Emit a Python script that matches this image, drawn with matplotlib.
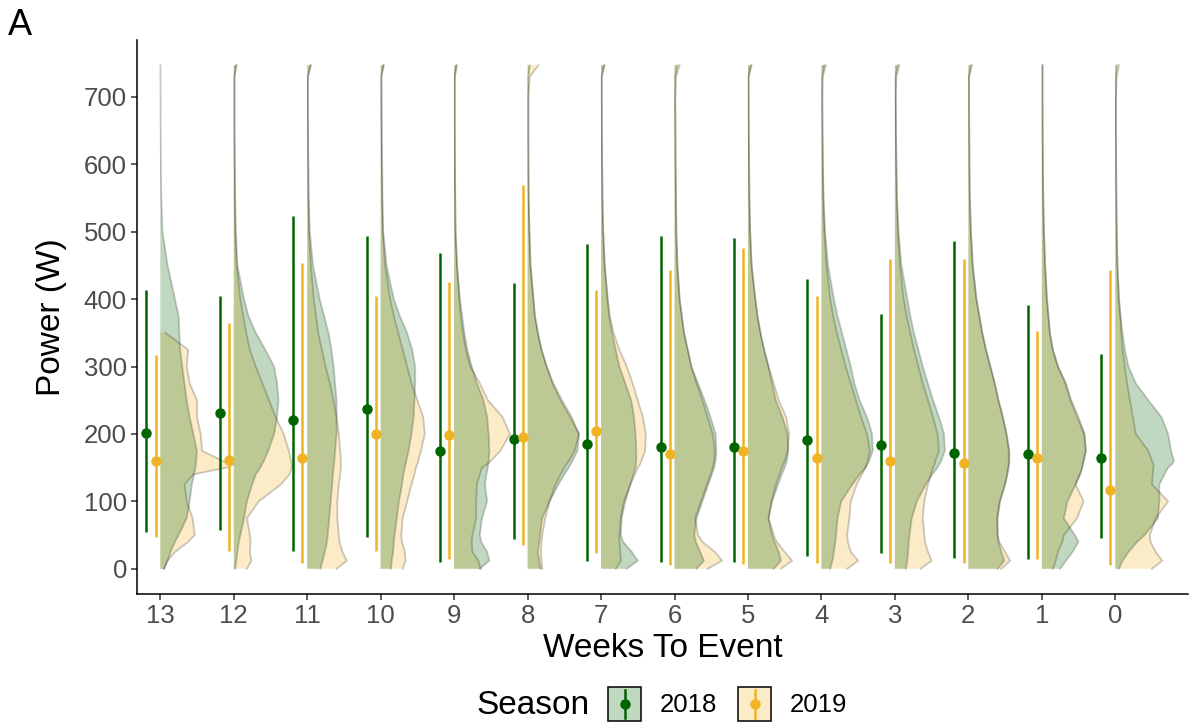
import matplotlib
matplotlib.use("Agg")
import matplotlib.pyplot as plt
from matplotlib.patches import Rectangle
from matplotlib.lines import Line2D

plt.rcParams['font.family'] = ['Liberation Sans', 'DejaVu Sans']

# ---------------- data ----------------
weeks = ["13", "12", "11", "10", "9", "8", "7", "6", "5", "4", "3", "2", "1", "0"]
seasons = ["2018", "2019"]

mean_2018 = [202, 231, 220, 237, 174, 193, 185, 180, 180, 191, 184, 172, 170, 164]
low_2018 = [54, 57, 26, 47, 10, 44, 12, 10, 10, 19, 23, 16, 14, 45]
high_2018 = [414, 405, 524, 493, 468, 424, 482, 494, 490, 430, 378, 486, 391, 319]

mean_2019 = [160, 162, 164, 200, 199, 196, 204, 171, 175, 165, 160, 157, 164, 117]
low_2019 = [47, 26, 8, 26, 15, 35, 23, 5, 7, 9, 9, 8, 14, 5]
high_2019 = [317, 364, 453, 405, 425, 569, 414, 443, 476, 405, 460, 460, 353, 443]

# power levels (W) at which the half-violin widths were read
levels = [0, 12, 25, 40, 50, 75, 100, 125, 140, 150, 155, 160, 175, 200, 225,
          250, 275, 300, 325, 350, 375, 400, 450, 500, 550, 600, 650, 700, 730, 747]

top_2018 = [747] * 14
top_2019 = [350, 747, 747, 747, 747, 747, 747, 747, 747, 747, 747, 747, 747, 747]

# half-violin widths (category units), one row per week (13 .. 0)
dens_2018 = [
    [0.05,0.1,0.14,0.2,0.25,0.36,0.4,0.43,0.46,0.48,0.485,0.49,0.5,0.45,0.4,0.36,0.33,0.3,0.27,0.26,0.25,0.2,0.1,0.03,0.015,0.008,0.005,0.003,0.002,0.002],
    [0.02,0.035,0.05,0.07,0.09,0.14,0.18,0.25,0.3,0.36,0.385,0.41,0.47,0.55,0.59,0.61,0.59,0.55,0.43,0.3,0.2,0.14,0.05,0.03,0.02,0.015,0.01,0.01,0.01,0.03],
    [0.18,0.21,0.24,0.27,0.28,0.3,0.32,0.34,0.35,0.36,0.365,0.37,0.38,0.4,0.4,0.4,0.38,0.36,0.33,0.29,0.23,0.17,0.08,0.035,0.02,0.015,0.012,0.01,0.01,0.045],
    [0.14,0.15,0.17,0.18,0.19,0.22,0.25,0.29,0.31,0.33,0.34,0.35,0.38,0.42,0.45,0.46,0.47,0.47,0.43,0.36,0.26,0.18,0.08,0.035,0.025,0.02,0.015,0.012,0.01,0.04],
    [0.35,0.48,0.45,0.37,0.35,0.38,0.45,0.42,0.44,0.46,0.465,0.47,0.48,0.47,0.45,0.4,0.31,0.24,0.18,0.14,0.11,0.08,0.04,0.02,0.015,0.012,0.01,0.01,0.01,0.03],
    [0.18,0.16,0.14,0.16,0.17,0.2,0.3,0.42,0.5,0.56,0.585,0.61,0.68,0.7,0.58,0.45,0.34,0.26,0.19,0.14,0.1,0.08,0.04,0.025,0.015,0.012,0.01,0.01,0.01,0.03],
    [0.35,0.5,0.42,0.3,0.27,0.28,0.33,0.4,0.44,0.47,0.475,0.48,0.48,0.47,0.45,0.41,0.33,0.25,0.2,0.15,0.11,0.09,0.05,0.03,0.02,0.015,0.012,0.01,0.01,0.04],
    [0.3,0.4,0.35,0.29,0.27,0.3,0.38,0.46,0.51,0.54,0.55,0.56,0.57,0.56,0.49,0.41,0.32,0.23,0.18,0.13,0.1,0.07,0.04,0.025,0.02,0.015,0.012,0.01,0.01,0.04],
    [0.35,0.45,0.42,0.36,0.33,0.28,0.33,0.41,0.46,0.5,0.515,0.53,0.55,0.54,0.47,0.38,0.33,0.28,0.22,0.17,0.13,0.1,0.05,0.03,0.02,0.015,0.012,0.01,0.01,0.04],
    [0.12,0.15,0.17,0.19,0.2,0.22,0.27,0.42,0.52,0.6,0.625,0.65,0.7,0.69,0.62,0.52,0.45,0.4,0.34,0.28,0.22,0.17,0.09,0.05,0.03,0.02,0.015,0.012,0.01,0.04],
    [0.15,0.17,0.18,0.19,0.2,0.23,0.3,0.42,0.51,0.58,0.605,0.63,0.68,0.67,0.6,0.52,0.45,0.38,0.32,0.26,0.21,0.17,0.09,0.05,0.03,0.02,0.015,0.012,0.01,0.04],
    [0.4,0.49,0.45,0.41,0.4,0.4,0.43,0.5,0.53,0.55,0.555,0.56,0.56,0.52,0.47,0.41,0.36,0.3,0.24,0.19,0.15,0.11,0.06,0.035,0.02,0.015,0.012,0.01,0.01,0.03],
    [0.25,0.33,0.42,0.5,0.45,0.3,0.35,0.46,0.52,0.55,0.56,0.57,0.6,0.58,0.48,0.39,0.32,0.22,0.15,0.11,0.09,0.07,0.045,0.03,0.02,0.015,0.012,0.01,0.01,0.01],
    [0.05,0.1,0.18,0.3,0.4,0.58,0.6,0.6,0.67,0.72,0.77,0.8,0.76,0.72,0.63,0.45,0.28,0.18,0.13,0.1,0.07,0.05,0.03,0.02,0.015,0.012,0.01,0.01,0.01,0.02],
]

dens_2019 = [
    [0.05,0.1,0.2,0.38,0.47,0.44,0.36,0.33,0.45,0.9,1.0,0.85,0.57,0.55,0.5,0.5,0.4,0.36,0.38,0.07,0,0,0,0,0,0,0,0,0,0],
    [0.18,0.24,0.22,0.23,0.22,0.18,0.34,0.64,0.76,0.79,0.79,0.78,0.75,0.68,0.57,0.48,0.39,0.3,0.22,0.17,0.13,0.09,0.04,0.02,0.015,0.012,0.01,0.01,0.01,0.04],
    [0.4,0.54,0.48,0.44,0.43,0.41,0.41,0.43,0.45,0.46,0.46,0.46,0.45,0.43,0.4,0.36,0.31,0.25,0.2,0.15,0.12,0.09,0.05,0.025,0.018,0.014,0.012,0.01,0.01,0.05],
    [0.3,0.34,0.33,0.29,0.28,0.3,0.36,0.42,0.46,0.48,0.5,0.51,0.55,0.6,0.58,0.5,0.42,0.36,0.3,0.24,0.18,0.13,0.06,0.03,0.02,0.015,0.012,0.01,0.01,0.04],
    [0.36,0.33,0.25,0.24,0.25,0.3,0.3,0.31,0.35,0.38,0.45,0.5,0.63,0.76,0.66,0.46,0.35,0.22,0.16,0.12,0.09,0.07,0.04,0.02,0.015,0.012,0.01,0.01,0.01,0.04],
    [0.2,0.19,0.18,0.19,0.2,0.24,0.3,0.38,0.45,0.5,0.53,0.56,0.64,0.7,0.6,0.47,0.35,0.26,0.19,0.14,0.1,0.08,0.04,0.025,0.015,0.012,0.01,0.01,0.03,0.15],
    [0.2,0.27,0.26,0.25,0.25,0.27,0.31,0.4,0.46,0.5,0.53,0.55,0.6,0.61,0.57,0.5,0.43,0.35,0.25,0.17,0.12,0.09,0.05,0.03,0.02,0.015,0.012,0.01,0.01,0.05],
    [0.45,0.65,0.55,0.38,0.32,0.28,0.36,0.44,0.49,0.52,0.53,0.54,0.55,0.52,0.45,0.38,0.3,0.23,0.18,0.13,0.1,0.07,0.04,0.025,0.02,0.015,0.012,0.01,0.02,0.07],
    [0.45,0.6,0.5,0.39,0.35,0.28,0.32,0.38,0.43,0.46,0.48,0.5,0.54,0.56,0.52,0.42,0.35,0.28,0.22,0.17,0.13,0.1,0.05,0.03,0.02,0.015,0.012,0.01,0.01,0.05],
    [0.35,0.5,0.4,0.36,0.35,0.38,0.4,0.48,0.55,0.6,0.62,0.63,0.66,0.62,0.54,0.47,0.4,0.33,0.27,0.21,0.16,0.12,0.07,0.04,0.025,0.02,0.015,0.012,0.02,0.06],
    [0.35,0.5,0.45,0.41,0.4,0.38,0.4,0.45,0.49,0.52,0.54,0.55,0.6,0.58,0.52,0.45,0.38,0.32,0.26,0.21,0.16,0.12,0.07,0.04,0.025,0.02,0.015,0.012,0.02,0.06],
    [0.45,0.57,0.5,0.42,0.4,0.39,0.43,0.5,0.53,0.54,0.55,0.55,0.55,0.52,0.47,0.41,0.36,0.3,0.24,0.19,0.15,0.11,0.06,0.035,0.02,0.015,0.012,0.01,0.01,0.05],
    [0.15,0.19,0.22,0.28,0.3,0.48,0.57,0.46,0.52,0.55,0.56,0.57,0.6,0.58,0.5,0.4,0.33,0.22,0.15,0.11,0.09,0.07,0.045,0.03,0.02,0.015,0.012,0.01,0.01,0.01],
    [0.5,0.64,0.55,0.48,0.47,0.55,0.72,0.5,0.51,0.52,0.52,0.5,0.45,0.28,0.24,0.2,0.16,0.13,0.1,0.08,0.07,0.05,0.03,0.02,0.015,0.012,0.01,0.01,0.02,0.05],
]

# ---------------- style ----------------
col_2018 = "#006400"
col_2019 = "#F0B323"
fill_alpha = 0.25

W, H = 1194, 724
fig = plt.figure(figsize=(W / 100, H / 100), dpi=100)
ax = fig.add_axes([137.3 / W, (H - 594) / H, (1188 - 137.3) / W, (594 - 40) / H])

positions = list(range(len(weeks)))


def draw_violin(pos, widths, top, color):
    ys = [y for y in levels if y <= top]
    ws = widths[:len(ys)]
    xs = [pos + w for w in ws]
    ax.fill_betweenx(ys, [pos] * len(ys), xs, facecolor=color, alpha=fill_alpha,
                     linewidth=0, zorder=2)
    ax.plot(xs, ys, color="black", alpha=0.2, lw=1.3, zorder=3,
            solid_joinstyle="round")


for i, pos in enumerate(positions):
    draw_violin(pos, dens_2019[i], top_2019[i], col_2019)
    draw_violin(pos, dens_2018[i], top_2018[i], col_2018)

off_2018, off_2019 = -0.19, -0.065
for i, pos in enumerate(positions):
    ax.plot([pos + off_2018] * 2, [low_2018[i], high_2018[i]], color=col_2018,
            lw=1.8, zorder=4, solid_capstyle="butt")
    ax.plot(pos + off_2018, mean_2018[i], "o", color=col_2018, ms=6.5, zorder=5)
    ax.plot([pos + off_2019] * 2, [low_2019[i], high_2019[i]], color=col_2019,
            lw=1.8, zorder=4, solid_capstyle="butt")
    ax.plot(pos + off_2019, mean_2019[i], "o", color=col_2019, ms=6.5, zorder=5)

ax.set_xlim(-0.313, 13.99)
ax.set_ylim(-37.4, 784.4)
ax.set_xticks(positions)
ax.set_xticklabels(weeks)
ax.set_yticks([0, 100, 200, 300, 400, 500, 600, 700])

for s in ["top", "right"]:
    ax.spines[s].set_visible(False)
for s in ["left", "bottom"]:
    ax.spines[s].set_linewidth(1.1)
    ax.spines[s].set_color("black")
ax.tick_params(axis="both", length=4.5, width=1.1, color="#333333",
               labelsize=18.5, labelcolor="#4D4D4D", pad=3)

ax.set_xlabel("Weeks To Event", fontsize=24, labelpad=3)
ax.set_ylabel("Power (W)", fontsize=24, labelpad=12)

fig.text(8 / W, 1 - 35 / H, "A", fontsize=26, ha="left", va="baseline")

# ---------------- legend ----------------
def fx(x):
    return x / W


def fy(y):
    return 1 - y / H


fig.text(fx(476), fy(705), "Season", fontsize=24, ha="left", va="center")
for x0, lab, col in [(608, "2018", col_2018), (738, "2019", col_2019)]:
    fig.add_artist(Rectangle((fx(x0), fy(721)), 33 / W, 34 / H, transform=fig.transFigure,
                             facecolor="white", edgecolor="none"))
    fig.add_artist(Rectangle((fx(x0), fy(721)), 33 / W, 34 / H, transform=fig.transFigure,
                             facecolor=col, alpha=fill_alpha, edgecolor="none"))
    fig.add_artist(Rectangle((fx(x0), fy(721)), 33 / W, 34 / H, transform=fig.transFigure,
                             facecolor="none", edgecolor="black", lw=1.1))
    cx = fx(x0 + 16.5)
    fig.add_artist(Line2D([cx, cx], [fy(690), fy(718)], transform=fig.transFigure,
                          color=col, lw=1.8))
    fig.add_artist(Line2D([cx], [fy(704)], transform=fig.transFigure, marker="o",
                          color=col, ms=6.5))
    fig.text(fx(x0 + 52), fy(705), lab, fontsize=18.5, ha="left", va="center")

fig.savefig("out.png", dpi=100)
